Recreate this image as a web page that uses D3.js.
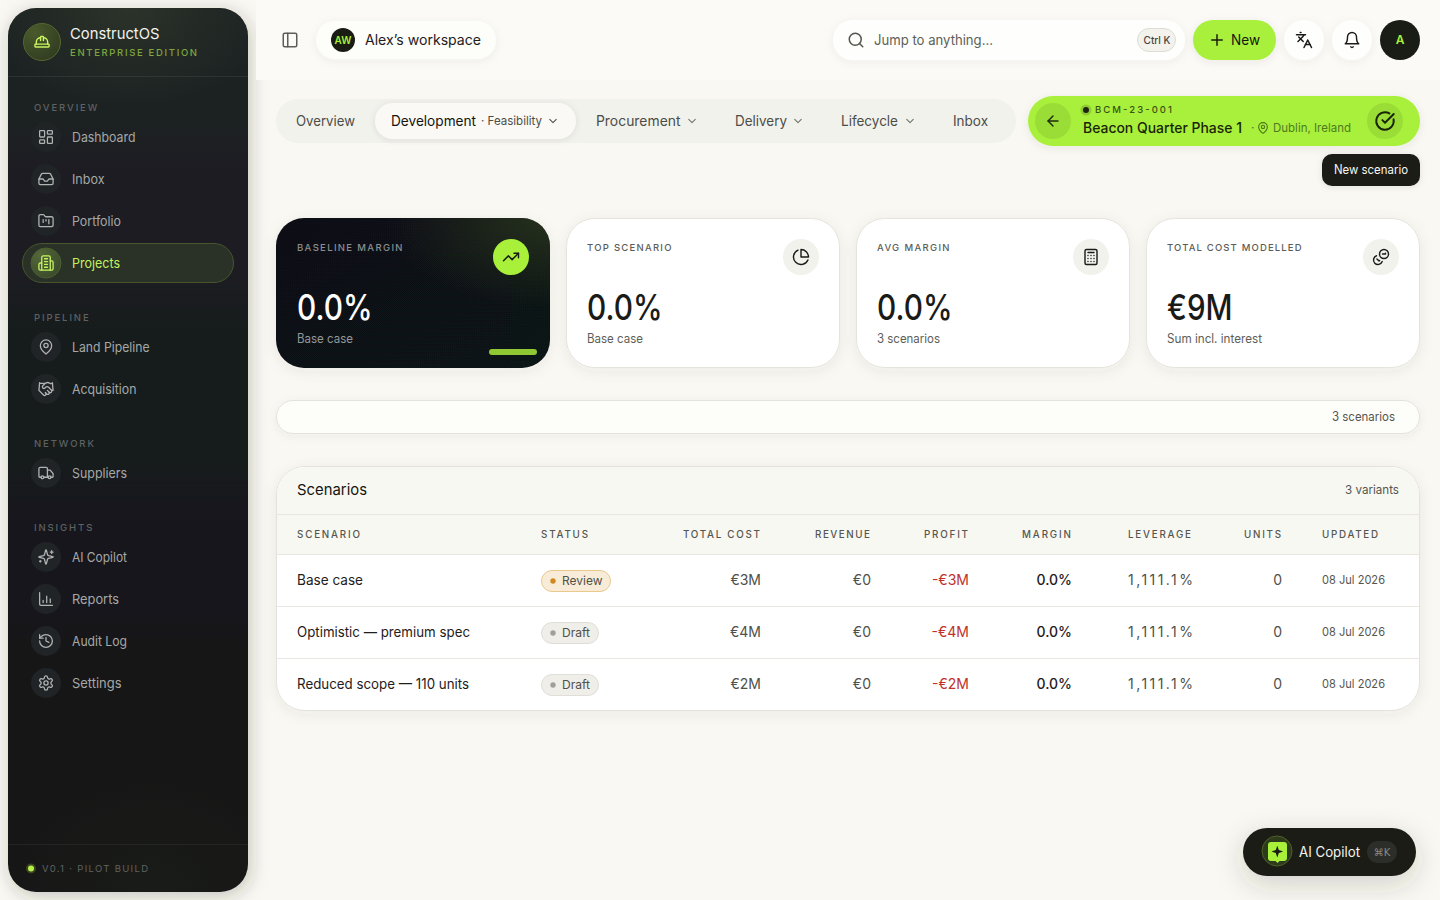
<!DOCTYPE html>
<html lang="en">
<head>
<meta charset="utf-8">
<title>ConstructOS — Scenarios</title>
<script src="https://cdn.jsdelivr.net/npm/d3@7"></script>
<style>
html,body{margin:0;padding:0;background:#f9f8f3;overflow:hidden}
svg{display:block}
text{font-family:Inter,"Noto Sans",sans-serif}
</style>
</head>
<body>
<div id="app"></div>
<script>
// ---- data -----------------------------------------------------------------
const scenarioNames = ["Base case","Optimistic — premium spec","Reduced scope — 110 units"];
const scenarioStatus = ["Review","Draft","Draft"];
const totalCostM = [3,4,2];
const revenueM = [0,0,0];
const profitM = [-3,-4,-2];
const marginPct = [0,0,0];
const leveragePct = [1111.1,1111.1,1111.1];
const unitCounts = [0,0,0];
const updatedDates = ["08 Jul 2026","08 Jul 2026","08 Jul 2026"];
const tableHeaders = ["SCENARIO","STATUS","TOTAL COST","REVENUE","PROFIT","MARGIN","LEVERAGE","UNITS","UPDATED"];
const kpiLabels = ["BASELINE MARGIN","TOP SCENARIO","AVG MARGIN","TOTAL COST MODELLED"];
const kpiValues = ["0.0%","0.0%","0.0%","€9M"];
const kpiNotes = ["Base case","Base case","3 scenarios","Sum incl. interest"];
const kpiIcons = ["trend","pie","calc","coins"];
const navSections = ["OVERVIEW","PIPELINE","NETWORK","INSIGHTS"];
const navOverview = ["Dashboard","Inbox","Portfolio","Projects"];
const navPipeline = ["Land Pipeline","Acquisition"];
const navNetwork = ["Suppliers"];
const navInsights = ["AI Copilot","Reports","Audit Log","Settings"];
const tabLabels = ["Overview","Procurement","Delivery","Lifecycle","Inbox"];

// ---- icons ----------------------------------------------------------------
const ICON = {
  dash:'<rect x="3" y="3" width="7" height="9" rx="1"/><rect x="14" y="3" width="7" height="5" rx="1"/><rect x="14" y="12" width="7" height="9" rx="1"/><rect x="3" y="16" width="7" height="5" rx="1"/>',
  inbox:'<polyline points="22 12 16 12 14 15 10 15 8 12 2 12"/><path d="M5.45 5.11 2 12v6a2 2 0 0 0 2 2h16a2 2 0 0 0 2-2v-6l-3.45-6.89A2 2 0 0 0 16.76 4H7.24a2 2 0 0 0-1.79 1.11z"/>',
  folder:'<path d="M4 20h16a2 2 0 0 0 2-2V8a2 2 0 0 0-2-2h-7.93a2 2 0 0 1-1.66-.9l-.82-1.2A2 2 0 0 0 7.93 3H4a2 2 0 0 0-2 2v13c0 1.1.9 2 2 2Z"/><path d="M8 10v4M12 10v2M16 10v6"/>',
  building:'<path d="M6 22V4a2 2 0 0 1 2-2h8a2 2 0 0 1 2 2v18Z"/><path d="M6 12H4a2 2 0 0 0-2 2v6a2 2 0 0 0 2 2h2"/><path d="M18 9h2a2 2 0 0 1 2 2v9a2 2 0 0 1-2 2h-2"/><path d="M10 6h4M10 10h4M10 14h4M10 18h4"/>',
  pin:'<path d="M20 10c0 6-8 12-8 12s-8-6-8-12a8 8 0 0 1 16 0Z"/><circle cx="12" cy="10" r="3"/>',
  hand:'<path d="m11 17 2 2a1 1 0 1 0 3-3"/><path d="m14 14 2.5 2.5a1 1 0 1 0 3-3l-3.88-3.88a3 3 0 0 0-4.24 0l-.88.88a1 1 0 1 1-3-3l2.81-2.81a5.79 5.79 0 0 1 7.06-.87l.47.28a2 2 0 0 0 1.42.25L21 4"/><path d="m21 3 1 11h-2"/><path d="M3 3 2 14l6.5 6.5a1 1 0 1 0 3-3"/><path d="M3 4h8"/>',
  truck:'<path d="M14 18V6a2 2 0 0 0-2-2H4a2 2 0 0 0-2 2v11a1 1 0 0 0 1 1h2"/><path d="M15 18H9"/><path d="M19 18h2a1 1 0 0 0 1-1v-3.65a1 1 0 0 0-.22-.624l-3.48-4.35A1 1 0 0 0 17.52 8H14"/><circle cx="17" cy="18" r="2"/><circle cx="7" cy="18" r="2"/>',
  spark:'<path d="M9.937 15.5A2 2 0 0 0 8.5 14.063l-6.135-1.582a.5.5 0 0 1 0-.962L8.5 9.936A2 2 0 0 0 9.937 8.5l1.582-6.135a.5.5 0 0 1 .963 0L14.063 8.5A2 2 0 0 0 15.5 9.937l6.135 1.581a.5.5 0 0 1 0 .964L15.5 14.063a2 2 0 0 0-1.437 1.437l-1.582 6.135a.5.5 0 0 1-.963 0z"/><path d="M20 3v4M22 5h-4M4 17v2M5 18H3"/>',
  chart:'<path d="M3 3v16a2 2 0 0 0 2 2h16"/><path d="M8 17v-3M13 17V8M18 17v-5"/>',
  history:'<path d="M3 12a9 9 0 1 0 9-9 9.75 9.75 0 0 0-6.74 2.74L3 8"/><path d="M3 3v5h5"/><path d="M12 7v5l4 2"/>',
  gear:'<path d="M12.22 2h-.44a2 2 0 0 0-2 2v.18a2 2 0 0 1-1 1.73l-.43.25a2 2 0 0 1-2 0l-.15-.08a2 2 0 0 0-2.73.73l-.22.38a2 2 0 0 0 .73 2.73l.15.1a2 2 0 0 1 1 1.72v.51a2 2 0 0 1-1 1.74l-.15.09a2 2 0 0 0-.73 2.73l.22.38a2 2 0 0 0 2.73.73l.15-.08a2 2 0 0 1 2 0l.43.25a2 2 0 0 1 1 1.73V20a2 2 0 0 0 2 2h.44a2 2 0 0 0 2-2v-.18a2 2 0 0 1 1-1.73l.43-.25a2 2 0 0 1 2 0l.15.08a2 2 0 0 0 2.73-.73l.22-.39a2 2 0 0 0-.73-2.73l-.15-.08a2 2 0 0 1-1-1.74v-.5a2 2 0 0 1 1-1.74l.15-.09a2 2 0 0 0 .73-2.73l-.22-.38a2 2 0 0 0-2.73-.73l-.15.08a2 2 0 0 1-2 0l-.43-.25a2 2 0 0 1-1-1.73V4a2 2 0 0 0-2-2z"/><circle cx="12" cy="12" r="3"/>',
  hat:'<path d="M2 18a1 1 0 0 0 1 1h18a1 1 0 0 0 1-1v-2a1 1 0 0 0-1-1H3a1 1 0 0 0-1 1v2z"/><path d="M10 10V5a1 1 0 0 1 1-1h2a1 1 0 0 1 1 1v5"/><path d="M4 15v-3a6 6 0 0 1 6-6"/><path d="M14 6a6 6 0 0 1 6 6v3"/>',
  panel:'<rect x="3" y="3" width="18" height="18" rx="2"/><path d="M9 3v18"/>',
  search:'<circle cx="11" cy="11" r="8"/><path d="m21 21-4.3-4.3"/>',
  chev:'<path d="m6 9 6 6 6-6"/>',
  plus:'<path d="M5 12h14M12 5v14"/>',
  lang:'<path d="m5 8 6 6"/><path d="m4 14 6-6 2-3"/><path d="M2 5h12"/><path d="M7 2h1"/><path d="m22 22-5-10-5 10"/><path d="M14 18h6"/>',
  bell:'<path d="M6 8a6 6 0 0 1 12 0c0 7 3 9 3 9H3s3-2 3-9"/><path d="M10.3 21a1.94 1.94 0 0 0 3.4 0"/>',
  back:'<path d="m12 19-7-7 7-7"/><path d="M19 12H5"/>',
  check:'<path d="M21.801 10A10 10 0 1 1 17 3.335"/><path d="m9 11 3 3L22 4"/>',
  trend:'<path d="m22 7-8.5 8.5-5-5L2 17"/><path d="M16 7h6v6"/>',
  pie:'<path d="M21.21 15.89A10 10 0 1 1 8 2.83"/><path d="M22 12A10 10 0 0 0 12 2v10z"/>',
  calc:'<rect x="4" y="2" width="16" height="20" rx="2"/><path d="M8 6h8M8 10h.01M12 10h.01M16 10h.01M8 14h.01M12 14h.01M16 14h.01M8 18h.01M12 18h.01M16 18h.01"/>',
  coins:'<g transform="rotate(90 12 12)"><circle cx="8" cy="8" r="6"/><path d="M18.09 10.37A6 6 0 1 1 10.34 18"/><path d="M7 6h1v4"/><path d="m16.71 13.88.7.71-2.82 2.82"/></g>'
};

// ---- helpers --------------------------------------------------------------
const svg = d3.select("#app").append("svg").attr("width",1440).attr("height",900).attr("viewBox","0 0 1440 900");
const defs = svg.append("defs");
function shadow(id,dx,dy,sd,col,op){
  const f = defs.append("filter").attr("id",id).attr("x","-30%").attr("y","-40%").attr("width","160%").attr("height","190%");
  f.append("feDropShadow").attr("dx",dx).attr("dy",dy).attr("stdDeviation",sd).attr("flood-color",col).attr("flood-opacity",op);
}
shadow("sSide",2,4,9,"#2b2b20",.26);
shadow("sSoft",0,2,5,"#44443a",.06);
shadow("sCard",0,3,7,"#44443a",.07);
shadow("sPill",0,1,3,"#33332a",.10);
shadow("sFab",0,8,14,"#33332a",.20);
shadow("sLime",0,2,4,"#33332a",.08);
function linear(id,x1,y1,x2,y2,stops){
  const g=defs.append("linearGradient").attr("id",id).attr("x1",x1).attr("y1",y1).attr("x2",x2).attr("y2",y2);
  stops.forEach(s=>g.append("stop").attr("offset",s[0]).attr("stop-color",s[1]).attr("stop-opacity",s[2]===undefined?1:s[2]));
}
function radial(id,cx,cy,r,stops){
  const g=defs.append("radialGradient").attr("id",id).attr("cx",cx).attr("cy",cy).attr("r",r);
  stops.forEach(s=>g.append("stop").attr("offset",s[0]).attr("stop-color",s[1]).attr("stop-opacity",s[2]===undefined?1:s[2]));
}
linear("gSide",0,0,0,1,[[0,"#1e2224"],[.45,"#181b1e"],[.85,"#131517"],[1,"#161917"]]);
radial("gSideTop",.5,0,.62,[[0,"#3b4532",.48],[1,"#3b4532",0]]);
radial("gSideBot",.6,1,.6,[[0,"#263020",.22],[1,"#263020",0]]);
linear("gDark",0,0,1,1,[[0,"#0e1114"],[1,"#0f1215"]]);
radial("gDarkGlow",1,0,.6,[[0,"#3a4a22",.55],[1,"#3a4a22",0]]);
radial("gLogo",.3,.25,.9,[[0,"#4a5a2c"],[1,"#2f3a20"]]);
radial("gActive",.3,.25,.9,[[0,"#54683a"],[1,"#38482a"]]);

function rect(p,x,y,w,h,r,fill,o={}){
  const e=p.append("rect").attr("x",x).attr("y",y).attr("width",w).attr("height",h).attr("rx",r).attr("fill",fill);
  if(o.stroke) e.attr("stroke",o.stroke).attr("stroke-width",o.sw||1);
  if(o.filter) e.attr("filter",`url(#${o.filter})`);
  return e;
}
function circ(p,cx,cy,r,fill,o={}){
  const e=p.append("circle").attr("cx",cx).attr("cy",cy).attr("r",r).attr("fill",fill);
  if(o.stroke) e.attr("stroke",o.stroke).attr("stroke-width",o.sw||1);
  if(o.filter) e.attr("filter",`url(#${o.filter})`);
  return e;
}
function text(p,x,y,s,o={}){
  const e=p.append("text").attr("x",x).attr("y",y).text(s)
    .attr("font-size",o.size||13).attr("font-weight",o.weight||400).attr("fill",o.fill||"#1a1b17")
    .attr("text-anchor",o.anchor||"start").attr("letter-spacing",o.ls===undefined?0:o.ls);
  if(o.w) e.attr("textLength",o.w).attr("lengthAdjust",o.adjust||"spacingAndGlyphs");
  return e;
}
function icon(p,name,cx,cy,size,color,sw=2){
  p.append("g").attr("transform",`translate(${cx-size/2},${cy-size/2}) scale(${size/24})`)
    .attr("fill","none").attr("stroke",color).attr("stroke-width",sw).attr("stroke-linecap","round").attr("stroke-linejoin","round")
    .html(ICON[name]);
}

// ---- page background ------------------------------------------------------
rect(svg,0,0,1440,900,0,"#f9f8f3");

// ---- sidebar --------------------------------------------------------------
const side = svg.append("g");
rect(side,8,8,240,884,28,"url(#gSide)",{filter:"sSide"});
rect(side,8,8,240,160,28,"url(#gSideTop)");
rect(side,8,692,240,200,28,"url(#gSideBot)");
side.append("line").attr("x1",8).attr("x2",248).attr("y1",76.5).attr("y2",76.5).attr("stroke","#ffffff").attr("stroke-opacity",.07);
side.append("line").attr("x1",8).attr("x2",248).attr("y1",844.5).attr("y2",844.5).attr("stroke","#ffffff").attr("stroke-opacity",.06);
circ(side,42,42,18.5,"url(#gLogo)",{stroke:"#56672f"});
icon(side,"hat",42,42,17,"#c8f560",2);
text(side,70,39,"ConstructOS",{size:15,weight:400,fill:"#f2f2ee",w:89.5});
text(side,70,56,"ENTERPRISE EDITION",{size:9.5,weight:500,fill:"#7fa63e",ls:1.67});

const navIcons = {Dashboard:"dash",Inbox:"inbox",Portfolio:"folder",Projects:"building","Land Pipeline":"pin",Acquisition:"hand",Suppliers:"truck","AI Copilot":"spark",Reports:"chart","Audit Log":"history",Settings:"gear"};
const navY = d3.scaleOrdinal().domain(d3.merge([navOverview,navPipeline,navNetwork,navInsights]))
  .range([137,179,221,263,347,389,473,557,599,641,683]);
const navW = d3.scaleOrdinal().domain(navY.domain()).range([63.5,32.5,49,48,77.5,64.5,55,55,47,55,49.5]);
const sectionY = d3.scaleOrdinal().domain(navSections).range([111,321,447,531]);
navSections.forEach(s=>text(side,34,sectionY(s),s,{size:9.5,weight:500,fill:"#5e6162",ls:1.9}));
rect(side,22.5,243.5,211,39,19.5,"#2a3126",{stroke:"#47562e"});
navY.domain().forEach(n=>{
  const y=navY(n), active=n==="Projects";
  circ(side,46,y,15,active?"url(#gActive)":"#212427",{stroke:active?"#4e5f30":"none"});
  icon(side,navIcons[n],46,y,17,active?"#c8f560":"#b1b3b3",1.8);
  text(side,72,y+4.7,n,{size:13.5,weight:400,fill:active?"#c4f160":"#a6a8a8",w:navW(n)});
});
circ(side,31,868.5,5,"#b4ee45",{}).attr("opacity",.22);
circ(side,31,868.5,3,"#b8f048");
text(side,42,872,"V0.1 · PILOT BUILD",{size:9.5,fill:"#5f6261",w:106,adjust:"spacing"});

// ---- top bar --------------------------------------------------------------
rect(svg,256,0,1184,80,0,"#fbfaf6");
const topBar = svg.append("g");
icon(topBar,"panel",290,40,18,"#5c5e58",2);
rect(topBar,316,21,180,38,19,"#fdfdfa",{filter:"sSoft"});
circ(topBar,343,40,12,"#1a1c14");
text(topBar,343,43.5,"AW",{size:10,weight:600,fill:"#a8f03a",anchor:"middle"});
text(topBar,365,45,"Alex’s workspace",{size:14,weight:400,fill:"#1f201a",w:116});
rect(topBar,833,20,352,40,20,"#fefefc",{filter:"sSoft"});
icon(topBar,"search",856,40,18,"#55564f",2);
text(topBar,874,45,"Jump to anything...",{size:14,fill:"#5d5e58",w:119});
rect(topBar,1137.5,28.5,38,23,11.5,"#f3f2ed",{stroke:"#dddcd5"});
text(topBar,1157,44,"Ctrl K",{size:10,weight:500,fill:"#44453f",anchor:"middle"});
rect(topBar,1193,20,83,40,20,"#a8f03a",{filter:"sLime"});
icon(topBar,"plus",1217,40,18,"#1a1c14",2);
text(topBar,1231,45,"New",{size:14,weight:400,fill:"#14160f",w:29});
circ(topBar,1304,40,20,"#fefefc",{filter:"sSoft"});
icon(topBar,"lang",1304,40,18,"#1a1b17",2);
circ(topBar,1352,40,20,"#fefefc",{filter:"sSoft"});
icon(topBar,"bell",1352,40,18,"#1a1b17",1.9);
circ(topBar,1400,40,20,"#1a1c16");
text(topBar,1400,44,"A",{size:12,weight:600,fill:"#a8f03a",anchor:"middle"});

// ---- stage tabs -----------------------------------------------------------
const tabs = svg.append("g");
rect(tabs,276,99,740,44,22,"#f2f2ed");
rect(tabs,375,103,201,36,18,"#faf9f5",{filter:"sPill"});
const tabX = d3.scaleOrdinal().domain(tabLabels).range([296,596,735,841,953]);
const tabChev = d3.scaleOrdinal().domain(tabLabels).range([null,692,798,910,null]);
const tabW = d3.scaleOrdinal().domain(tabLabels).range([59,84.5,52,57,35]);
tabLabels.forEach(l=>{
  text(tabs,tabX(l),126,l,{size:14,fill:"#4c4d47",w:tabW(l)});
  if(tabChev(l)) icon(tabs,"chev",tabChev(l),121,13,"#73746d",2);
});
text(tabs,391,126,"Development",{size:14,weight:400,fill:"#14150f",w:85});
text(tabs,481,125,"· Feasibility",{size:12,fill:"#4c4d47",w:61});
icon(tabs,"chev",553,121,13,"#55564f",2);

// ---- project pill ---------------------------------------------------------
const proj = svg.append("g");
rect(proj,1028,96,392,50,25,"#a8f03a",{filter:"sLime"});
circ(proj,1053,121,18,"#99dd36");
icon(proj,"back",1053,121,17,"#1e2a0e",2);
circ(proj,1086,110,5.5,"#8fcc32");
circ(proj,1086,110,3,"#1c2410");
text(proj,1095,113,"BCM-23-001",{size:9.5,weight:500,fill:"#3a5212",w:77,adjust:"spacing"});
text(proj,1083,133,"Beacon Quarter Phase 1",{size:14.5,weight:500,fill:"#1a2408",w:159});
text(proj,1251,132,"·",{size:12,fill:"#4f7a1e"});
icon(proj,"pin",1263,128,13,"#4a7518",2);
text(proj,1273,132,"Dublin, Ireland",{size:12,fill:"#4f7a1e",w:78});
circ(proj,1385,121,18,"#99dd36");
icon(proj,"check",1385,121,21,"#1a2408",2.2);
rect(svg,1322,154,98,32,10,"#1a1b17",{filter:"sPill"});
text(svg,1334,174,"New scenario",{size:12.5,weight:400,fill:"#f7f7f3",w:74});

// ---- KPI cards ------------------------------------------------------------
const kpiX = d3.scaleBand().domain(kpiLabels).range([276,1420]).paddingInner(16/290).paddingOuter(0);
const kpiTextW = d3.scaleOrdinal().domain(kpiLabels).range([105.5,84.5,72.5,134.5]);
const kpiValW = d3.scaleOrdinal().domain(kpiValues).range([75.5,65.5]);
const kpiNoteW = d3.scaleOrdinal().domain(kpiNotes).range([56,63,95]);
const kpis = svg.append("g");
kpiLabels.forEach((lab,i)=>{
  const x=kpiX(lab), w=kpiX.bandwidth(), dark=i===0, g=kpis.append("g");
  if(dark){
    rect(g,x,218,w,150,28,"url(#gDark)",{filter:"sCard"});
    rect(g,x,218,w,150,28,"url(#gDarkGlow)");
    rect(g,x+213,349,48,6,3,"#8fc832");
  } else {
    rect(g,x+.5,218.5,w-1,149,28,"#ffffff",{stroke:"#e4e3dc",filter:"sCard"});
  }
  text(g,x+21,251,lab,{size:9.5,weight:500,fill:dark?"#8b8e8f":"#5c5d57",w:kpiTextW(lab),adjust:"spacing"});
  circ(g,x+235,257,18,dark?"#a8f03a":"#f2f2ec");
  icon(g,kpiIcons[i],x+235,257,18,"#1a1b17",1.9);
  text(g,x+21,320,kpiValues[i],{size:35,weight:500,fill:dark?"#ffffff":"#1a1b17",w:kpiValW(kpiValues[i])});
  text(g,x+21,343,kpiNotes[i],{size:12.5,fill:dark?"#95989a":"#5d5e58",w:kpiNoteW(kpiNotes[i])});
});

// ---- filter bar -----------------------------------------------------------
rect(svg,276.5,400.5,1143,33,16.5,"#fdfdfa",{stroke:"#e3e2dc",filter:"sSoft"});
text(svg,1332,421,"3 scenarios",{size:12.5,fill:"#55564f",w:63});

// ---- table ----------------------------------------------------------------
const tbl = svg.append("g");
rect(tbl,276.5,466.5,1143,244,28,"#ffffff",{stroke:"#e3e2dc",filter:"sCard"});
const clipT = defs.append("clipPath").attr("id","cardClip");
clipT.append("rect").attr("x",277).attr("y",467).attr("width",1142).attr("height",243).attr("rx",27.5);
const inner = tbl.append("g").attr("clip-path","url(#cardClip)");
rect(inner,277,467,1142,88,0,"#f8f8f3");
const rowY = d3.scaleBand().domain(scenarioNames).range([555,711]);
const rule = (y)=>inner.append("line").attr("x1",277).attr("x2",1419).attr("y1",y).attr("y2",y).attr("stroke","#e8e7e1");
[514.5,554.5,606.5,658.5].forEach(rule);
text(tbl,297,495,"Scenarios",{size:15,weight:400,fill:"#14150f",w:70});
text(tbl,1345,494,"3 variants",{size:12,fill:"#55564f",w:54});

const colX = d3.scaleOrdinal().domain(tableHeaders).range([297,541,761,871,969,1072,1192,1282,1322]);
const headW = d3.scaleOrdinal().domain(tableHeaders).range([64,48,78,56,45,50,64,38,57]);
const colStart = h=>h==="SCENARIO"||h==="STATUS"||h==="UPDATED";
tableHeaders.forEach(h=>{
  text(tbl,colStart(h)?colX(h):colX(h)-headW(h),538,h,{size:9.8,weight:500,fill:"#55564f",w:headW(h)-1,adjust:"spacing"});
});

const euroM = v=>(v<0?"-":"")+"€"+Math.abs(v)+(v===0?"":"M");
const pct1 = d3.format(",.1f");
const nameW = d3.scaleOrdinal().domain(scenarioNames).range([66,173,172]);
const statusStyle = {Review:{fill:"#f8ecd8",stroke:"#e9c98c",dot:"#cf8a1f",w:70},Draft:{fill:"#efeee9",stroke:"#dfded8",dot:"#a0a09a",w:58}};
scenarioNames.forEach((n,i)=>{
  const mid=rowY(n)+rowY.bandwidth()/2, base=mid+4.3;
  text(tbl,colX("SCENARIO"),base,n,{size:14,fill:"#1f201b",w:nameW(n)});
  const st=statusStyle[scenarioStatus[i]], px=colX("STATUS");
  rect(tbl,px+.5,mid-10.5,st.w-1,21,10.5,st.fill,{stroke:st.stroke});
  circ(tbl,px+12,mid,2.7,st.dot);
  text(tbl,px+21,mid+4.3,scenarioStatus[i],{size:12,weight:400,fill:"#4f504a",w:i===0?40.5:28});
  text(tbl,colX("TOTAL COST"),base,euroM(totalCostM[i]),{size:14,fill:"#4f504a",anchor:"end"});
  text(tbl,colX("REVENUE"),base,euroM(revenueM[i]),{size:14,fill:"#4f504a",anchor:"end"});
  text(tbl,colX("PROFIT"),base,euroM(profitM[i]),{size:14,fill:"#c0312b",anchor:"end"});
  text(tbl,colX("MARGIN"),base,pct1(marginPct[i])+"%",{size:14,weight:500,fill:"#1f201b",anchor:"end"});
  text(tbl,colX("LEVERAGE")-64,base,pct1(leveragePct[i])+"%",{size:14,fill:"#4f504a",w:65,adjust:"spacing"});
  text(tbl,colX("UNITS"),base,String(unitCounts[i]),{size:14,fill:"#4f504a",anchor:"end"});
  text(tbl,colX("UPDATED"),base-1,updatedDates[i],{size:12,fill:"#55564f",w:63});
});

// ---- copilot button -------------------------------------------------------
const fab = svg.append("g");
rect(fab,1243,828,173,48,24,"#1a1c16",{filter:"sFab"});
circ(fab,1277,851,15,"#2e3a1c",{stroke:"#4e6028"});
rect(fab,1268,842,19,19,3,"#a8f03a");
fab.append("path").attr("d","M1274.5 860h6l-3 3z").attr("fill","#a8f03a");
fab.append("g").attr("transform","translate(1269.5,843.8) scale(.65)").attr("fill","#1a1c16").html('<path d="M12 3 14.3 9.7 21 12 14.3 14.3 12 21 9.7 14.3 3 12 9.7 9.7Z"/>');
text(fab,1299,857,"AI Copilot",{size:14,weight:400,fill:"#f4f4ef",w:61});
rect(fab,1367,841,30,22,11,"#2c2e29");
text(fab,1382,856,"⌘K",{size:10,fill:"#8a8b85",anchor:"middle"}).style("font-family","'DejaVu Sans',Inter,sans-serif");
</script>
</body>
</html>
